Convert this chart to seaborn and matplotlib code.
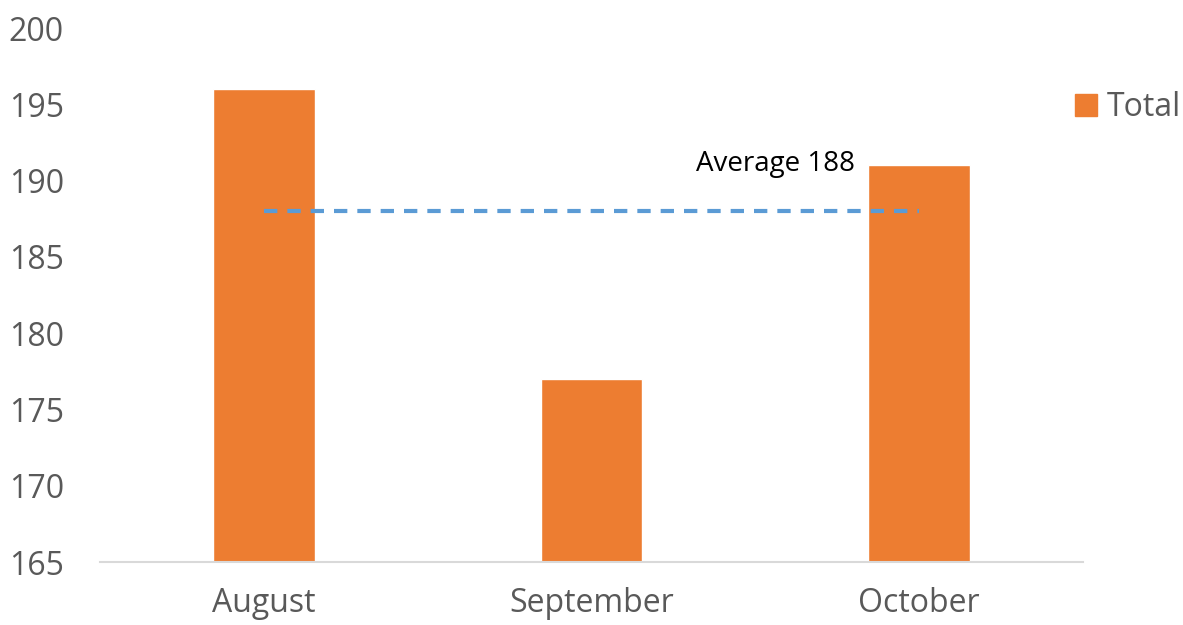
import pandas as pd
import numpy as np
import matplotlib.pyplot as plt
import seaborn as sns

# Chart data
months = ['August', 'September', 'October']
totals = [196, 177, 191]
series_name = 'Total'
y_ticks = [165, 170, 175, 180, 185, 190, 195, 200]

ORANGE = '#ED7D31'
BLUE = '#5B9BD5'
GREY = '#595959'

df = pd.DataFrame({'Month': months, 'Value': totals, 'Series': series_name})
average = round(np.mean(totals))

sns.set_style('white')
plt.rcParams['font.family'] = ['Open Sans', 'DejaVu Sans']

fig = plt.figure(figsize=(11.83, 6.25), dpi=100)
ax = fig.add_axes([0.0845, 0.1008, 0.831, 0.8544])

sns.barplot(data=df, x='Month', y='Value', hue='Series', palette=[ORANGE],
            width=0.31, dodge=False, saturation=1, ax=ax, legend=False)

# Average line between the first and last category
ax.hlines(average, 0, len(months) - 1, colors=BLUE, linestyles=(0, (3.2, 2.4)), linewidth=3)
ax.text(1.805, average + 3.1, f'Average {average}', ha='right', va='center',
        fontsize=20, color='black')

ax.set_ylim(y_ticks[0], y_ticks[-1])
ax.set_xlim(-0.5, len(months) - 0.5)
ax.set_yticks(y_ticks)
ax.set_xlabel('')
ax.set_ylabel('')
ax.tick_params(axis='y', labelsize=23, colors=GREY, length=0, pad=26)
ax.tick_params(axis='x', labelsize=23, colors=GREY, length=0, pad=18)

sns.despine(ax=ax, left=True, top=True, right=True)
ax.spines['bottom'].set_color('#D9D9D9')
ax.spines['bottom'].set_linewidth(1.5)

handle = plt.Rectangle((0, 0), 1, 1, color=ORANGE)
fig.legend([handle], [series_name], loc='center left', bbox_to_anchor=(0.898, 0.828),
           frameon=False, fontsize=23, handlelength=0.7, handleheight=0.7,
           handletextpad=0.3, borderaxespad=0, labelcolor=GREY)

fig.savefig('out.png', dpi=100)
